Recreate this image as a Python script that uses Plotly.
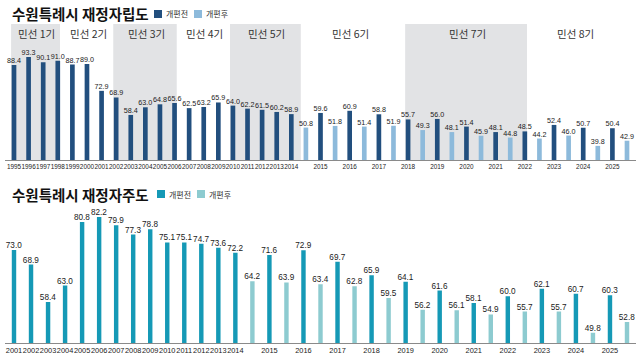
import plotly.graph_objects as go

# ---------------- data ----------------
top_years = [str(y) for y in range(1995, 2026)]
top_before = [88.4, 93.3, 90.1, 91.0, 88.7, 89.0, 72.9, 68.9, 58.4, 63.0,
              64.8, 65.6, 62.5, 63.2, 65.9, 64.0, 62.2, 61.5, 60.2, 58.9,
              59.6, 60.9, 58.8, 55.7, 56.0, 51.4, 48.1, 48.5, 52.4, 50.7, 50.4]
after_years = [str(y) for y in range(2014, 2026)]
top_after = [50.8, 51.8, 51.4, 51.9, 49.3, 48.1, 45.9, 44.8, 44.2, 46.0, 39.8, 42.9]

bot_years = [str(y) for y in range(2001, 2026)]
bot_before = [73.0, 68.9, 58.4, 63.0, 80.8, 82.2, 79.9, 77.3, 78.8, 75.1,
              75.1, 74.7, 73.6, 72.2, 71.6, 72.9, 69.7, 65.9, 64.1, 61.6,
              58.1, 60.0, 62.1, 60.7, 60.3]
bot_after = [64.2, 63.9, 63.4, 62.8, 59.5, 56.2, 56.1, 54.9, 55.7, 55.7, 49.8, 52.8]

terms = ["민선 1기", "민선 2기", "민선 3기", "민선 4기", "민선 5기", "민선 6기", "민선 7기", "민선 8기"]
term_start = ["1995", "1998", "2002", "2006", "2010", "2014", "2018", "2022"]
term_end = ["1998", "2002", "2006", "2010", "2014", "2018", "2022", "2026"]
shaded = [True, False, True, False, True, False, True, False]

title_top = "수원특례시 재정자립도"
title_bot = "수원특례시 재정자주도"
legend_labels = ["개편전", "개편후"]

# colors
C_TOP_B, C_TOP_A = "#224f7e", "#8dbadb"
C_BOT_B, C_BOT_A = "#1599b6", "#8dcbd0"
BAND = "#e2e3e5"


def slots(years, after_set):
    """slot positions: each year one bar, years in after_set get a 2nd bar."""
    pos_b, pos_a = {}, {}
    i = 0
    for y in years:
        pos_b[y] = i
        i += 1
        if y in after_set:
            pos_a[y] = i
            i += 1
    return pos_b, pos_a, i


tb, ta, ntop = slots(top_years, set(after_years))
bb, ba, nbot = slots(bot_years, set(after_years))

NARROW = "Liberation Sans Narrow, Arial Narrow, Liberation Sans, Arial, sans-serif"
TOPNUM = dict(family=NARROW, size=7.2, color="#1a1a1a")
BOTNUM = dict(family=NARROW, size=8.2, color="#1a1a1a")
TOPTICK = dict(family=NARROW, size=6.4, color="#222")
BOTTICK = dict(family=NARROW, size=7.4, color="#222")
KFONT = "Noto Sans CJK KR, sans-serif"

fig = go.Figure()


def add_bars(xpos, vals, color, xa, ya, width, font):
    fig.add_trace(go.Bar(
        x=xpos, y=vals, xaxis=xa, yaxis=ya, width=width,
        marker=dict(color=color, line=dict(width=0)),
        texttemplate="%{y:.1f}", textposition="outside", textfont=font,
        cliponaxis=False, constraintext="none", showlegend=False, hoverinfo="skip"))


add_bars([tb[y] for y in top_years], top_before, C_TOP_B, "x", "y", 0.32, TOPNUM)
add_bars([ta[y] for y in after_years], top_after, C_TOP_A, "x", "y", 0.32, TOPNUM)
add_bars([bb[y] for y in bot_years], bot_before, C_BOT_B, "x2", "y2", 0.26, BOTNUM)
add_bars([ba[y] for y in after_years], bot_after, C_BOT_A, "x2", "y2", 0.26, BOTNUM)

W, H = 640, 364
px_left, px_right = 5, 636
t_first, t_last = 14, 627
t_step = (t_last - t_first) / (ntop - 1)
b_step = (t_last - t_first) / (nbot - 1)

fig.update_layout(
    width=W, height=H, margin=dict(l=0, r=0, t=0, b=0),
    paper_bgcolor="white", plot_bgcolor="rgba(0,0,0,0)", barmode="overlay",
    xaxis=dict(domain=[px_left / W, px_right / W],
               range=[(px_left - t_first) / t_step, ntop - 1 + (px_right - t_last) / t_step],
               tickmode="array", tickvals=[tb[y] for y in top_years], ticktext=top_years,
               tickangle=0, tickfont=TOPTICK, showgrid=False, zeroline=False, showline=True,
               linecolor="#8a8a8a", linewidth=1, ticks="", ticklen=0, anchor="y"),
    yaxis=dict(domain=[1 - 160 / H, 1 - 24 / H], range=[31.3, 113.1], visible=False,
               showgrid=False, zeroline=False),
    xaxis2=dict(domain=[px_left / W, px_right / W],
                range=[(px_left - t_first) / b_step, nbot - 1 + (px_right - t_last) / b_step],
                tickmode="array", tickvals=[bb[y] for y in bot_years], ticktext=bot_years,
                tickangle=0, tickfont=BOTTICK, showgrid=False, zeroline=False, showline=True,
                linecolor="#8a8a8a", linewidth=1, ticks="", ticklen=0, anchor="y2"),
    yaxis2=dict(domain=[1 - 343 / H, 1 - 205 / H], range=[46.9, 85.6], visible=False,
                showgrid=False, zeroline=False),
)


def term_slot(y):
    return tb[y] if y in tb else ntop


for name, s, e, sh in zip(terms, term_start, term_end, shaded):
    x0 = term_slot(s)
    x1 = term_slot(e)
    if e == "2014":
        x1 = ta["2014"] - 0.35
    elif e in tb:
        x1 = x1 + 0.15
    if sh:
        fig.add_shape(type="rect", xref="x", yref="y domain", x0=x0 - 0.2, x1=x1,
                      y0=0, y1=1, fillcolor=BAND, line=dict(width=0), layer="below")
    xm = (x0 + min(x1, ntop - 1)) / 2
    fig.add_annotation(x=xm, xref="x", y=1 - 33 / H, yref="paper", text=name,
                       showarrow=False, font=dict(family=KFONT, size=10.5, color="#333"),
                       xanchor="center", yanchor="middle")


def title_block(text, ymid_px, cb, ca, sq_x):
    fig.add_annotation(x=10 / W, y=1 - ymid_px / H, xref="paper", yref="paper",
                       text="<b>" + text + "</b>", showarrow=False,
                       xanchor="left", yanchor="middle",
                       font=dict(family=KFONT, size=14.5, color="#111"))
    for k, (lab, col) in enumerate(zip(legend_labels, [cb, ca])):
        x0 = sq_x + k * 40
        fig.add_shape(type="rect", xref="paper", yref="paper",
                      x0=x0 / W, x1=(x0 + 8) / W,
                      y0=1 - (ymid_px + 4) / H, y1=1 - (ymid_px - 4) / H,
                      fillcolor=col, line=dict(width=0))
        fig.add_annotation(x=(x0 + 10) / W, y=1 - ymid_px / H, xref="paper", yref="paper",
                           text=lab, showarrow=False, xanchor="left", yanchor="middle",
                           font=dict(family=KFONT, size=8, color="#333"))


title_block(title_top, 14, C_TOP_B, C_TOP_A, 154)
title_block(title_bot, 194, C_BOT_B, C_BOT_A, 157)

fig.write_html("out.html", config={"displayModeBar": False},
               post_script="document.body.style.margin='0';")
